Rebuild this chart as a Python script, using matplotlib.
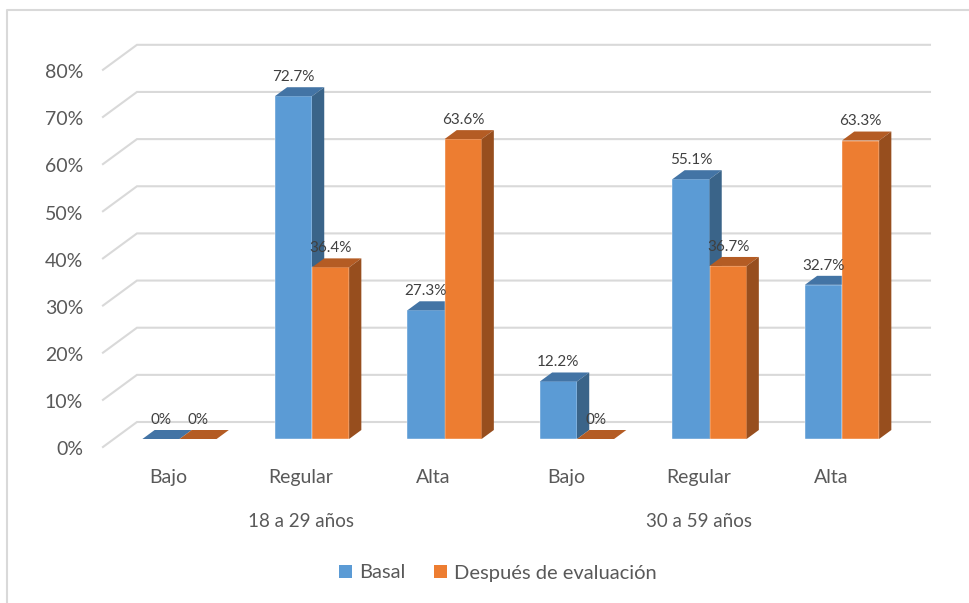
import matplotlib.pyplot as plt
from matplotlib.patches import Polygon, Patch
from matplotlib.lines import Line2D

plt.rcParams['font.family'] = ['Lato', 'DejaVu Sans']

categorias = ['Bajo', 'Regular', 'Alta', 'Bajo', 'Regular', 'Alta']
grupos = ['18 a 29 años', '30 a 59 años']
basal = [0, 72.7, 27.3, 12.2, 55.1, 32.7]
despues = [0, 36.4, 63.6, 0, 36.7, 63.3]
series = ['Basal', 'Después de evaluación']
yticks = [0, 10, 20, 30, 40, 50, 60, 70, 80]

TEXTO = '#595959'
GRID = '#D9D9D9'
# front, top, side colour of each series
colores = [('#5B9BD5', '#4374A5', '#3A6489'),
           ('#ED7D31', '#B45C24', '#974E1E')]

W = 0.28                      # width of one column
PX, PY = 0.2566, 5.30         # oblique shift of the full floor depth
FRONT, BACK = 0.32, 0.68      # depth of the column faces inside the floor
BDX, BDY = PX * (BACK - FRONT), PY * (BACK - FRONT)
X_IZQ, X_DER = -0.321, 5.664  # back wall extent

fig = plt.figure(figsize=(9.7, 6.03), dpi=100)
ax = fig.add_axes([0, 0, 1, 1])
ax.set_xlim(-179.5 / 132.5, (970 - 179.5) / 132.5)
ax.set_ylim(-(603 - 439) / 4.715, 439 / 4.715)
ax.axis('off')

# back wall + floor gridlines
shift_x, shift_y = PX * (1 - FRONT), PY * (1 - FRONT)
for v in yticks:
    xf, yf = X_IZQ - PX, v - PY * FRONT
    yb = v + shift_y
    ax.plot([xf, X_IZQ, X_DER], [yf, yb, yb], color=GRID, lw=1.5,
            solid_joinstyle='miter', zorder=1)
    ax.text(-0.728, yf - 0.6, f'{v}%', ha='right', va='center',
            fontsize=14, color=TEXTO)

# 3d columns
for s, vals in enumerate([basal, despues]):
    front, top, side = colores[s]
    x0 = [i - W + s * W for i in range(len(vals))]
    z = 2 + s
    ax.bar(x0, vals, width=W, align='edge', color=front,
           edgecolor='#FFFFFF', linewidth=0.3, zorder=z)
    for x, v in zip(x0, vals):
        ax.add_patch(Polygon([(x, v), (x + W, v), (x + W + BDX, v + BDY),
                              (x + BDX, v + BDY)], closed=True,
                             facecolor=top, edgecolor='none', zorder=z))
        ax.add_patch(Polygon([(x + W, 0), (x + W + BDX, BDY),
                              (x + W + BDX, v + BDY), (x + W, v)],
                             closed=True, facecolor=side, edgecolor='none',
                             zorder=z))
        ax.text(x + W / 2, v + BDY + 0.7, f'{v:g}%', ha='center',
                va='bottom', fontsize=11, color='#404040', zorder=5)

# category and group labels on the floor front edge
for i, c in enumerate(categorias):
    ax.text(i - PX * FRONT, -8.06, c, ha='center', va='center',
            fontsize=14, color=TEXTO)
for g, nombre in enumerate(grupos):
    xc = sum(range(g * 3, g * 3 + 3)) / 3 - PX * FRONT
    ax.text(xc, -17.4, nombre, ha='center', va='center',
            fontsize=13.5, color=TEXTO)

handles = [Patch(facecolor=colores[k][0], edgecolor='none', label=series[k])
           for k in range(2)]
fig.legend(handles=handles, loc='center', ncol=2, frameon=False,
           bbox_to_anchor=(498 / 970, 1 - 573 / 603), fontsize=14.5,
           labelcolor=TEXTO, handlelength=0.65, handleheight=0.65,
           handletextpad=0.35, columnspacing=1.4)

# chart border (partly cut off at the right and bottom)
fig.add_artist(Line2D([7 / 970, 7 / 970, 1.0], [0.0, 1 - 10 / 603, 1 - 10 / 603],
                      transform=fig.transFigure, color=GRID, lw=1.5))

fig.savefig('out.png', dpi=100)
